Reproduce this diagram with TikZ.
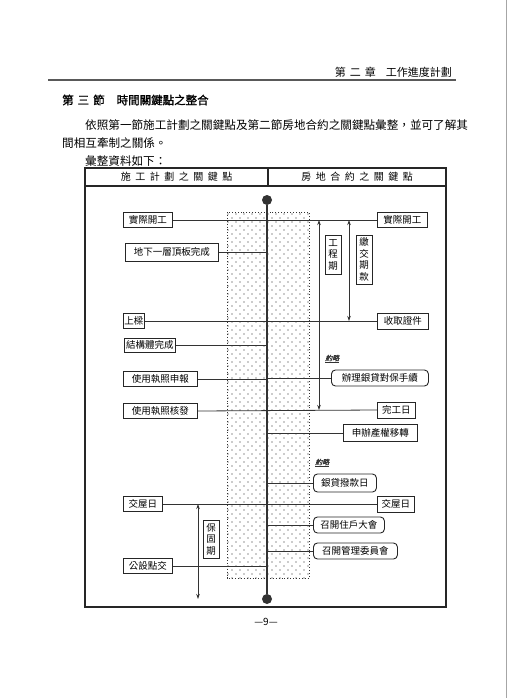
\documentclass[tikz,border=0pt]{standalone}
\usepackage{fontspec}
\setmainfont{Noto Sans CJK TC}
\newfontfamily\titlefont[FakeBold=1.2]{Noto Sans CJK TC}
\newfontfamily\notefont[FakeSlant=0.25,FakeBold=1]{Noto Sans CJK TC}
\usetikzlibrary{arrows.meta,patterns.meta}
\tikzset{
  boxfont/.style={font=\fontsize{9.5}{11}\selectfont},
  lbox/.style={draw=black!85, line width=0.9pt, inner xsep=1pt, inner ysep=0pt, anchor=west, boxfont},
  rbox/.style={lbox, rounded corners=4pt},
  vbox/.style={draw=black!85, line width=0.9pt, inner sep=1.5pt, align=center, font=\fontsize{9.5}{11.5}\selectfont},
  conn/.style={line width=0.8pt, draw=black!80},
  spine/.style={line width=2.2pt, draw=black!80},
  dot/.style={circle, fill=black!80, inner sep=0pt, minimum size=10pt},
  dblarrow/.style={line width=0.8pt, draw=black!80, {Stealth[length=5pt,width=3.5pt]}-{Stealth[length=5pt,width=3.5pt]}},
  note/.style={font=\notefont\fontsize{7}{8}\selectfont, inner sep=0pt, text=black!80},
  frame/.style={draw=black!85, line width=1.1pt}
}
\begin{document}
\begin{tikzpicture}[x=1pt,y=-1pt]
\useasboundingbox (0,0) rectangle (510,698);
\fill[white] (0,0) rectangle (510,698);
% page edge
\draw[black!35, line width=0.8pt] (506,0) -- (506,698);
% running head
\node[anchor=east, font=\fontsize{11}{13}\selectfont, inner sep=0pt] (runhead) at (452,72) {第\hspace{4pt}二\hspace{4pt}章\hspace{10pt}工作進度計劃};
\draw[black!65, line width=1.2pt] (48,80) -- (456,80);
% title and paragraph
\node[anchor=west, font=\titlefont\fontsize{11.5}{13}\selectfont, inner sep=0pt] (title) at (62,100) {第\hspace{4pt}三\hspace{4pt}節\hspace{12pt}時間關鍵點之整合};
\node[anchor=west, font=\fontsize{11.6}{13}\selectfont, inner sep=0pt] (par1) at (85,125) {依照第一節施工計劃之關鍵點及第二節房地合約之關鍵點彙整，並可了解其};
\node[anchor=west, font=\fontsize{11.6}{13}\selectfont, inner sep=0pt] (par2) at (62,143) {間相互牽制之關係。};
\node[anchor=west, font=\fontsize{11.6}{13}\selectfont, inner sep=0pt] (par3) at (85,161) {彙整資料如下：};
% table frame
\draw[frame] (85,168) rectangle (446,607);
\draw[frame] (85,186) -- (446,186);
\draw[frame] (268,168) -- (268,186);
\node[font=\fontsize{10}{12}\selectfont, inner sep=0pt] (hl) at (176.5,177) {施\hspace{4.5pt}工\hspace{4.5pt}計\hspace{4.5pt}劃\hspace{4.5pt}之\hspace{4.5pt}關\hspace{4.5pt}鍵\hspace{4.5pt}點};
\node[font=\fontsize{10}{12}\selectfont, inner sep=0pt] (hr) at (357,177) {房\hspace{4.5pt}地\hspace{4.5pt}合\hspace{4.5pt}約\hspace{4.5pt}之\hspace{4.5pt}關\hspace{4.5pt}鍵\hspace{4.5pt}點};
% dotted band
\fill[pattern={Dots[distance=8pt,radius=0.6pt]}, pattern color=black!85] (227,212) rectangle (309,578);
\fill[pattern={Dots[distance=8pt,radius=0.6pt,xshift=4pt,yshift=4pt]}, pattern color=black!85] (227,212) rectangle (309,578);
\draw[black!80, line width=0.9pt, dotted] (227,212) rectangle (309,578);
% spine end points
\node[dot] (top) at (267,200) {};
\node[dot] (bot) at (267,599) {};
% left boxes
\node[lbox, minimum width=49pt, minimum height=15pt] (L1) at (123,220) {實際開工};
\node[lbox, minimum width=93pt, minimum height=18pt] (L2) at (125,252) {地下一層頂板完成};
\node[lbox, minimum width=20pt, minimum height=15pt] (L3) at (123,321) {上樑};
\node[lbox, minimum width=51pt, minimum height=14pt] (L4) at (124,345) {結構體完成};
\node[lbox, minimum width=74pt, minimum height=15pt] (L5) at (123,379) {使用執照申報};
\node[lbox, minimum width=74pt, minimum height=15pt] (L6) at (123,411) {使用執照核發};
\node[lbox, minimum width=39pt, minimum height=15pt] (L7) at (123,504) {交屋日};
\node[lbox, minimum width=49pt, minimum height=15pt] (L8) at (123,566) {公設點交};
% right boxes
\node[lbox, minimum width=50pt, minimum height=15pt] (R1) at (377,220) {實際開工};
\node[lbox, minimum width=51pt, minimum height=16pt] (R2) at (377,321) {收取證件};
\node[rbox, minimum width=97pt, minimum height=16pt] (R3) at (331,378) {辦理銀貸對保手續};
\node[lbox, minimum width=38pt, minimum height=16pt] (R4) at (377,410) {完工日};
\node[lbox, minimum width=74pt, minimum height=17pt] (R5) at (343,433) {申辦產權移轉};
\node[rbox, minimum width=63pt, minimum height=18pt] (R6) at (313,483) {銀貸撥款日};
\node[lbox, minimum width=37pt, minimum height=16pt] (R7) at (377,504) {交屋日};
\node[rbox, minimum width=71pt, minimum height=16pt] (R8) at (313,525) {召開住戶大會};
\node[rbox, minimum width=84pt, minimum height=16pt] (R9) at (313,551) {召開管理委員會};
% connectors
\draw[conn] (L1.east) -- (R1.west);
\draw[conn] (L2.east) -- (L2.east -| top);
\draw[conn] (L3.east) -- (R2.west);
\draw[conn] (L4.east) -- (L4.east -| top);
\draw[conn] (L5.east) -- (L5.east -| top);
\draw[conn] (L6.east) -- (R4.west);
\draw[conn] (L7.east) -- (R7.west);
\draw[conn] (L8.east) -- (L8.east -| top);
\draw[conn] (R3.west -| top) -- (R3.west);
\draw[conn] (R5.west -| top) -- (R5.west);
\draw[conn] (R6.west -| top) -- (R6.west);
\draw[conn] (R8.west -| top) -- (R8.west);
\draw[conn] (R9.west -| top) -- (R9.west);
% spine
\draw[spine] (top) -- (bot);
% period arrows
\coordinate (xa) at (319,0);
\coordinate (xb) at (349,0);
\coordinate (xc) at (198,0);
\draw[dblarrow] (xa |- R1.west) -- (xa |- R4.west);
\draw[dblarrow] (xb |- R1.west) -- (xb |- R2.west);
\draw[dblarrow] (xc |- L7.east) -- (xc |- bot);
% vertical labels
\node[vbox, minimum width=16pt, minimum height=39pt] (V1) at (333,254.5) {工\\程\\期};
\node[vbox, minimum width=16pt, minimum height=49pt] (V2) at (364,259.5) {繳\\交\\期\\款};
\node[vbox, minimum width=16pt, minimum height=38pt] (V3) at (211,539) {保\\固\\期};
% small notes
\node[note, anchor=west] (N1) at (325,359) {\underline{約略}};
\node[note, anchor=west] (N2) at (315,463) {\underline{約略}};
% page number
\node[font=\fontsize{10}{12}\selectfont, inner sep=0pt] (pageno) at (266,622) {—9—};
\end{tikzpicture}
\end{document}
